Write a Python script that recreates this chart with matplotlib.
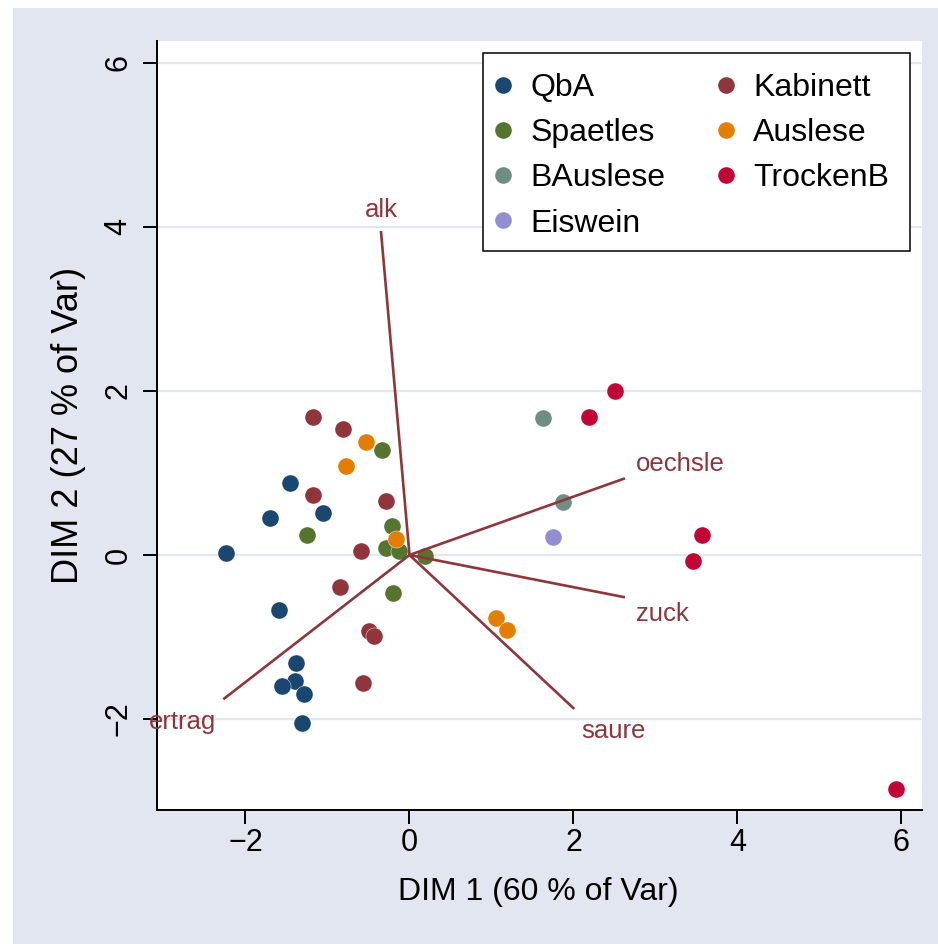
import matplotlib.pyplot as plt
from matplotlib.patches import Rectangle

plt.rcParams['font.family'] = ['Liberation Sans', 'DejaVu Sans']

W, H = 938, 944
BG = '#e1e6f0'
OUT = "out.png"

# principal component scores of the wines, one pair of lists per quality class
groups = ["QbA", "Kabinett", "Spaetles", "Auslese", "BAuslese", "TrockenB", "Eiswein"]
colors = ["#1a476f", "#90353b", "#55752f", "#e37e00", "#6e8e84", "#c10534", "#938dd2"]

qba_x = [-1.454, -1.698, -1.059, -2.238, -1.588, -1.388, -1.400, -1.555, -1.287, -1.307]
qba_y = [0.874, 0.451, 0.516, 0.028, -0.667, -1.321, -1.537, -1.601, -1.699, -2.049]
kab_x = [-1.173, -0.811, -1.180, -0.287, -0.591, -0.844, -0.498, -0.429, -0.563]
kab_y = [1.687, 1.533, 0.735, 0.659, 0.049, -0.387, -0.927, -0.988, -1.557]
spaet_x = [-0.332, -0.217, -1.254, -0.283, -0.132, 0.189, -0.198]
spaet_y = [1.280, 0.357, 0.244, 0.089, 0.049, -0.009, -0.460]
ausl_x = [-0.534, -0.778, -0.165, 1.059, 1.193]
ausl_y = [1.378, 1.089, 0.199, -0.772, -0.918]
bausl_x = [1.628, 1.876]
bausl_y = [1.674, 0.646]
trocken_x = [2.510, 2.185, 3.567, 3.454, 5.929]
trocken_y = [2.004, 1.687, 0.248, -0.070, -2.857]
eis_x = [1.746]
eis_y = [0.220]

scores = [(qba_x, qba_y), (kab_x, kab_y), (spaet_x, spaet_y), (ausl_x, ausl_y),
          (bausl_x, bausl_y), (trocken_x, trocken_y), (eis_x, eis_y)]

# variable loadings
var_names = ["alk", "oechsle", "zuck", "saure", "ertrag"]
load_x = [-0.348, 2.628, 2.628, 2.010, -2.271]
load_y = [3.951, 0.935, -0.516, -1.878, -1.760]

tick_vals = [-2, 0, 2, 4, 6]
xtitle = "DIM 1 (60 % of Var)"
ytitle = "DIM 2 (27 % of Var)"


def draw():
    fig = plt.figure(figsize=(W / 100, H / 100), dpi=100)
    fig.patch.set_facecolor('white')
    fig.add_artist(Rectangle((13 / W, 0), 1 - 13 / W, (H - 8) / H,
                             transform=fig.transFigure, facecolor=BG,
                             edgecolor='none', zorder=-1))

    ax = fig.add_axes([157 / W, 1 - 810 / H, 765 / W, 769 / H])
    ax.set_facecolor('white')

    handles = {}
    for name, col, (xs, ys) in zip(groups, colors, scores):
        h, = ax.plot(xs, ys, linestyle='none', marker='o', markersize=12.3,
                     markerfacecolor=col, markeredgecolor='white',
                     markeredgewidth=0.3, zorder=2, label=name)
        handles[name] = h

    # loading vectors from the origin, labels placed beside the tips
    lab_pos = {
        "alk": ((0, 14), 'center'),
        "oechsle": ((11, 7), 'left'),
        "zuck": ((11, -24), 'left'),
        "saure": ((7, -29), 'left'),
        "ertrag": ((-7, -30), 'right'),
    }
    for name, lx, ly in zip(var_names, load_x, load_y):
        ax.plot([0, lx], [0, ly], color='#90353b', lw=1.9, zorder=3,
                solid_capstyle='butt')
        off, ha = lab_pos[name]
        ax.annotate(name, (lx, ly), xytext=off, textcoords='offset pixels',
                    ha=ha, va='baseline', color='#90353b', fontsize=18.5,
                    zorder=3, annotation_clip=False)

    ax.set_xlim(-3.079, 6.250)
    ax.set_ylim(-3.110, 6.268)
    ax.set_xticks(tick_vals)
    ax.set_yticks(tick_vals)
    ax.yaxis.grid(True, color=BG, lw=1.6)
    ax.set_axisbelow(True)

    for s in ['top', 'right']:
        ax.spines[s].set_visible(False)
    for s in ['left', 'bottom']:
        ax.spines[s].set_linewidth(1.4)
        ax.spines[s].set_color('black')

    ax.tick_params(length=10, width=1.4, labelsize=22, colors='black')
    ax.tick_params(axis='x', pad=3)
    ax.tick_params(axis='y', pad=7)
    plt.setp(ax.get_yticklabels(), rotation=90, va='center')

    ax.set_xlabel(xtitle, fontsize=23)
    ax.xaxis.set_label_coords(0.4987, -0.1060)
    ax.xaxis.label.set_va('center')
    ax.set_ylabel(ytitle, fontsize=26)
    ax.yaxis.set_label_coords(-0.1163, 0.5)
    ax.yaxis.label.set_va('center')

    # legend box: white panel with black frame, two columns of keys
    ax.add_patch(Rectangle((482.7 / W, 1 - 250.7 / H), 427.3 / W, 198 / H,
                           transform=fig.transFigure, facecolor='white',
                           edgecolor='black', lw=1.1, zorder=4, clip_on=False))
    order = ["QbA", "Spaetles", "BAuslese", "Eiswein", "Kabinett", "Auslese", "TrockenB"]
    leg = ax.legend([handles[n] for n in order], order, ncol=2,
                    loc='upper left', bbox_to_anchor=(474.7 / W, 1 - 52.7 / H),
                    bbox_transform=fig.transFigure, frameon=False,
                    fontsize=23, borderpad=0.65, labelspacing=0.47,
                    handlelength=0.49, handletextpad=0.6, columnspacing=1.66,
                    borderaxespad=0)
    leg.set_zorder(5)

    fig.savefig(OUT, dpi=100)
    plt.close(fig)


if __name__ == "__main__":
    draw()
